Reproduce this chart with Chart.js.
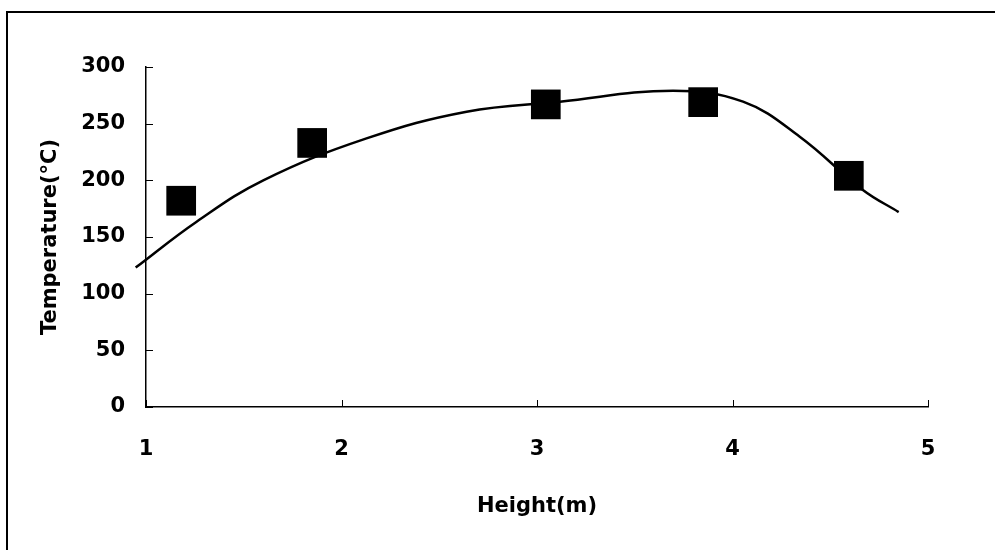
<!DOCTYPE html>
<html>
<head>
<meta charset="utf-8">
<script src="https://cdn.jsdelivr.net/npm/chart.js@4.4.1/dist/chart.umd.min.js"></script>
<style>
  html, body { margin: 0; padding: 0; background: #fff; overflow: hidden; }
  #wrap { position: relative; width: 995px; height: 550px; }
  #frame { position: absolute; left: 6px; top: 11px; width: 1100px; height: 700px; border: 2px solid #000; box-sizing: border-box; }
  canvas { position: absolute; left: 0; top: 0; }
</style>
</head>
<body>
<div id="wrap">
  <div id="frame"></div>
  <canvas id="tempChart" width="995" height="550"></canvas>
</div>
<script>
// measured points
const heights = [1.18, 1.85, 3.045, 3.85, 4.595];
const temps = [182, 233, 267, 269, 204];

// trend curve
const curveX = [0.947, 1.259, 1.6, 2.128, 2.64, 3.117, 3.696, 4.054, 4.344, 4.667, 4.85];
const curveY = [123, 163.5, 200, 237, 260.6, 269.4, 279, 269.4, 238.5, 191.5, 172];

const xTicks = [1, 2, 3, 4, 5];
const yTicks = [0, 50, 100, 150, 200, 250, 300];

const tickFont = { family: '"DejaVu Sans", sans-serif', size: 21, weight: 'bold' };

// small tick marks pointing into the plot
const innerTicks = {
    id: 'innerTicks',
    afterDraw(chart) {
        const ctx = chart.ctx;
        const x = chart.scales.x, y = chart.scales.y;
        ctx.save();
        ctx.strokeStyle = '#000';
        ctx.lineWidth = 1;
        yTicks.forEach(v => {
            const py = Math.round(y.getPixelForValue(v)) + 0.5;
            ctx.beginPath();
            ctx.moveTo(x.left, py);
            ctx.lineTo(x.left + 7, py);
            ctx.stroke();
        });
        xTicks.forEach(v => {
            const px = Math.round(x.getPixelForValue(v)) + 0.5;
            ctx.beginPath();
            ctx.moveTo(px, y.bottom);
            ctx.lineTo(px, y.bottom - 7);
            ctx.stroke();
        });
        ctx.restore();
    }
};

function initializeChart() {
    const ctx = document.getElementById('tempChart').getContext('2d');
    new Chart(ctx, {
        type: 'scatter',
        data: {
            datasets: [{
                label: 'Measured',
                data: heights.map((h, i) => ({ x: h, y: temps[i] })),
                pointStyle: 'rect',
                pointRadius: 21,
                pointHoverRadius: 21,
                backgroundColor: '#000',
                borderColor: '#000',
                borderWidth: 0,
                showLine: false,
                order: 0
            }, {
                label: 'Trend',
                data: curveX.map((h, i) => ({ x: h, y: curveY[i] })),
                showLine: true,
                borderColor: '#000',
                borderWidth: 2.5,
                pointRadius: 0,
                tension: 0.4,
                clip: false,
                order: 1
            }]
        },
        options: {
            responsive: false,
            animation: false,
            layout: { padding: { left: 0, top: 67, right: 67, bottom: 0 } },
            plugins: {
                legend: { display: false },
                tooltip: { enabled: false }
            },
            scales: {
                x: {
                    type: 'linear',
                    min: 1,
                    max: 5,
                    afterFit: scale => { scale.height = 143; },
                    afterBuildTicks: scale => { scale.ticks = xTicks.map(v => ({ value: v })); },
                    grid: { display: false, drawTicks: false },
                    border: { display: true, color: '#000', width: 1.5 },
                    ticks: { color: '#000', font: tickFont, padding: 30.4, maxRotation: 0 },
                    title: {
                        display: true,
                        text: 'Height(m)',
                        color: '#000',
                        font: tickFont,
                        padding: { top: 0, bottom: 30.4 }
                    }
                },
                y: {
                    min: 0,
                    max: 300,
                    afterFit: scale => { scale.width = 146; },
                    afterBuildTicks: scale => { scale.ticks = yTicks.map(v => ({ value: v })); },
                    grid: { display: false, drawTicks: false },
                    border: { display: true, color: '#000', width: 1.5 },
                    ticks: { color: '#000', font: tickFont, padding: 21 },
                    title: {
                        display: true,
                        text: 'Temperature(°C)',
                        color: '#000',
                        font: tickFont,
                        padding: { top: 38, bottom: 0 }
                    }
                }
            }
        },
        plugins: [innerTicks]
    });
}

document.addEventListener('DOMContentLoaded', initializeChart);
</script>
</body>
</html>
